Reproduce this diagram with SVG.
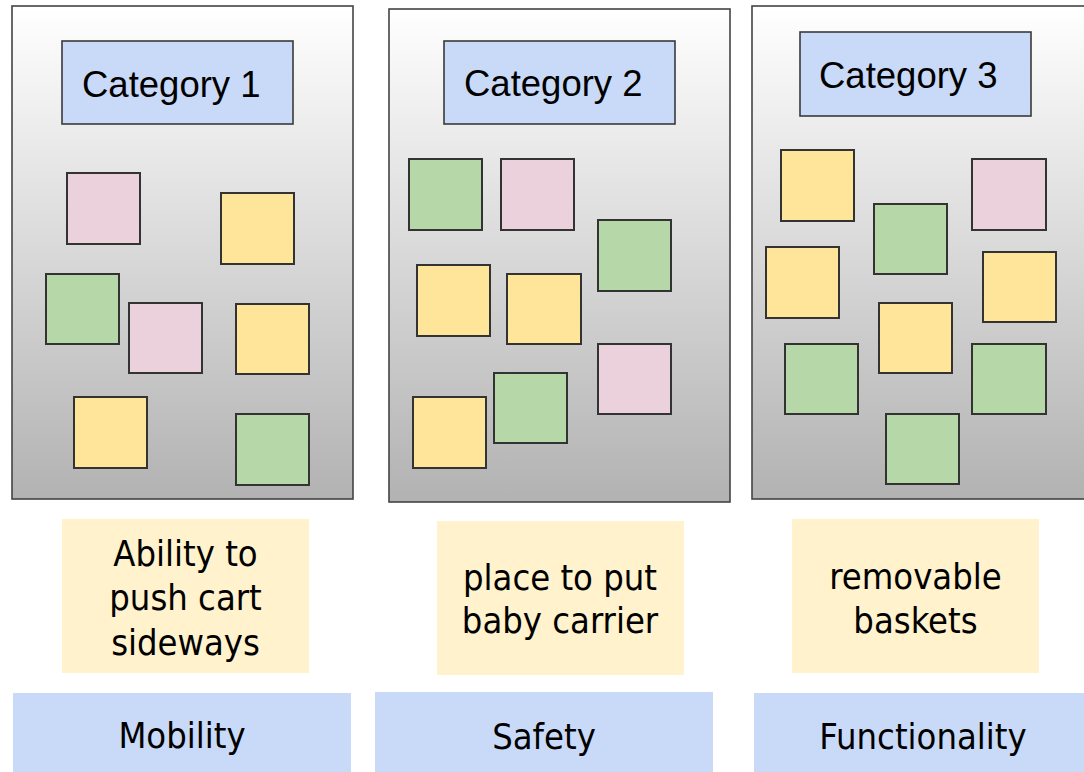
<svg xmlns="http://www.w3.org/2000/svg" width="1084" height="772" viewBox="0 0 1084 772">
<defs>
<linearGradient id="panelGrad" x1="0" y1="0" x2="0" y2="1">
<stop offset="0" stop-color="#ffffff"/>
<stop offset="1" stop-color="#b2b2b2"/>
</linearGradient>
<style>
.panel{fill:url(#panelGrad);stroke:#444;stroke-width:1.6}
.cat{fill:#c9daf8;stroke:#3a3a3a;stroke-width:1.6}
.cattxt{font-family:"Liberation Sans",Arial,sans-serif;font-size:36.5px;fill:#000}
.note{stroke:#333;stroke-width:2}
.y{fill:#ffe599}
.g{fill:#b6d7a8}
.p{fill:#ead1dc}
.idea{fill:#fff2cc}
.label{fill:#c9daf8}
.txt{font-family:"DejaVu Sans Condensed","DejaVu Sans",sans-serif;font-stretch:condensed;font-size:36px;fill:#000;text-anchor:middle}
</style>
</defs>
<rect width="1084" height="772" fill="#ffffff"/>

<g id="panel1">
<rect class="panel" x="12" y="6" width="341" height="493"/>
<rect class="cat" x="62" y="41" width="231" height="83"/>
<text class="cattxt" x="82" y="97">Category 1</text>
<rect class="note p" x="67" y="173" width="73" height="71"/>
<rect class="note y" x="221" y="193" width="73" height="71"/>
<rect class="note g" x="46" y="274" width="73" height="70"/>
<rect class="note p" x="129" y="303" width="73" height="70"/>
<rect class="note y" x="236" y="304" width="73" height="70"/>
<rect class="note y" x="74" y="397" width="73" height="71"/>
<rect class="note g" x="236" y="414" width="73" height="71"/>
</g>

<g id="panel2">
<rect class="panel" x="389" y="9" width="341" height="493"/>
<rect class="cat" x="444" y="41" width="231" height="83"/>
<text class="cattxt" x="464" y="96">Category 2</text>
<rect class="note g" x="409" y="159" width="73" height="71"/>
<rect class="note p" x="501" y="159" width="73" height="71"/>
<rect class="note g" x="598" y="220" width="73" height="71"/>
<rect class="note y" x="417" y="265" width="73" height="71"/>
<rect class="note y" x="507" y="274" width="74" height="70"/>
<rect class="note p" x="598" y="344" width="73" height="70"/>
<rect class="note g" x="494" y="373" width="73" height="70"/>
<rect class="note y" x="413" y="397" width="73" height="71"/>
</g>

<g id="panel3">
<rect class="panel" x="752" y="6" width="341" height="493"/>
<rect class="cat" x="800" y="32" width="231" height="84"/>
<text class="cattxt" x="819" y="88">Category 3</text>
<rect class="note y" x="781" y="150" width="73" height="71"/>
<rect class="note p" x="972" y="159" width="74" height="71"/>
<rect class="note g" x="874" y="204" width="73" height="70"/>
<rect class="note y" x="766" y="247" width="73" height="71"/>
<rect class="note y" x="983" y="252" width="73" height="70"/>
<rect class="note y" x="879" y="303" width="73" height="70"/>
<rect class="note g" x="785" y="344" width="73" height="70"/>
<rect class="note g" x="972" y="344" width="74" height="70"/>
<rect class="note g" x="886" y="414" width="73" height="70"/>
</g>

<g id="idea1">
<rect class="idea" x="62" y="519" width="247" height="154"/>
<text class="txt" x="185.5" y="566">Ability to</text>
<text class="txt" x="185.5" y="610">push cart</text>
<text class="txt" x="185.5" y="655">sideways</text>
</g>

<g id="idea2">
<rect class="idea" x="437" y="521" width="247" height="154"/>
<text class="txt" x="560" y="590">place to put</text>
<text class="txt" x="560" y="633">baby carrier</text>
</g>

<g id="idea3">
<rect class="idea" x="792" y="519" width="247" height="154"/>
<text class="txt" x="915.5" y="589">removable</text>
<text class="txt" x="915.5" y="633">baskets</text>
</g>

<g id="label1">
<rect class="label" x="13" y="693" width="338" height="79"/>
<text class="txt" x="182" y="748">Mobility</text>
</g>

<g id="label2">
<rect class="label" x="375" y="692" width="338" height="80"/>
<text class="txt" x="544" y="749">Safety</text>
</g>

<g id="label3">
<rect class="label" x="754" y="693" width="338" height="79"/>
<text class="txt" x="923" y="749">Functionality</text>
</g>

<g id="connectors"></g>
</svg>
